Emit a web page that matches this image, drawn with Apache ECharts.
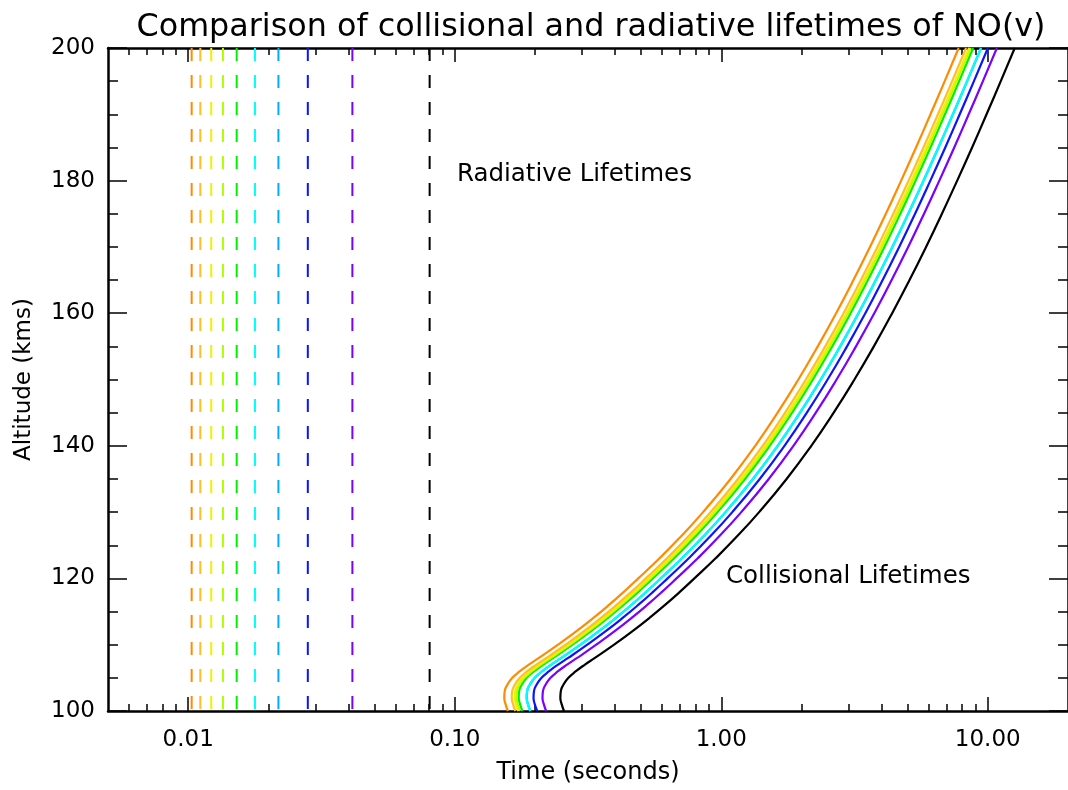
<!DOCTYPE html>
<html><head><meta charset="utf-8">
<script src="https://cdn.jsdelivr.net/npm/echarts@6/dist/echarts.min.js"></script>
<style>html,body{margin:0;padding:0;background:#fff}#c{width:1068px;height:790px}</style>
</head><body><div id="c"></div>
<script>
// Altitude grid (km) shared by every collisional-lifetime curve
const altitudes = [100,101,102,103,104,105,106,107,108,110,112,114,116,118,120,123,126,130,135,140,145,150,155,160,165,170,175,180,185,190,195,200];

// Collisional lifetimes (seconds), one array per vibrational level (colour)
const collBlack  = [0.257,0.252,0.249,0.250,0.256,0.267,0.285,0.308,0.3357,0.3963,0.4634,0.5365,0.6155,0.7008,0.7928,0.9502,1.1256,1.3871,1.7584,2.1768,2.6418,3.1608,3.7375,4.3782,5.0862,5.8671,6.7290,7.6790,8.7339,9.8969,11.190,12.625];
const collPurple = [0.2202,0.2160,0.2134,0.2143,0.2194,0.2288,0.2442,0.2640,0.2880,0.3396,0.3971,0.4598,0.5275,0.6006,0.6794,0.8143,0.9646,1.1887,1.5069,1.8655,2.2640,2.7088,3.2030,3.7521,4.3589,5.0281,5.7668,6.5809,7.4850,8.4816,9.5898,10.820];
const collBlue   = [0.2038,0.1998,0.1975,0.1983,0.2030,0.2117,0.2260,0.2442,0.2664,0.3143,0.3675,0.4254,0.4881,0.5557,0.6287,0.7535,0.8926,1.1000,1.3944,1.7262,2.0949,2.5065,2.9638,3.4719,4.0334,4.6526,5.3361,6.0894,6.9260,7.8482,8.8737,10.012];
const collSky    = [0.1922,0.1884,0.1862,0.1870,0.1914,0.1996,0.2131,0.2303,0.2512,0.2963,0.3465,0.4012,0.4603,0.5240,0.5928,0.7105,0.8416,1.0372,1.3148,1.6277,1.9754,2.3635,2.7947,3.2738,3.8032,4.3871,5.0316,5.7419,6.5307,7.4004,8.3673,9.4403];
const collCyan   = [0.1920,0.1882,0.1860,0.1868,0.1912,0.1994,0.2129,0.2301,0.2510,0.2960,0.3462,0.4008,0.4598,0.5235,0.5922,0.7098,0.8408,1.0362,1.3135,1.6261,1.9734,2.3611,2.7919,3.2705,3.7994,4.3827,5.0266,5.7362,6.5242,7.3930,8.3589,9.4309];
const collGreen  = [0.1794,0.1759,0.1738,0.1745,0.1787,0.1864,0.1989,0.2150,0.2345,0.2766,0.3235,0.3745,0.4296,0.4892,0.5534,0.6632,0.7857,0.9682,1.2274,1.5194,1.8440,2.2062,2.6088,3.0560,3.5502,4.0952,4.6968,5.3599,6.0963,6.9080,7.8106,8.8123];
const collLime   = [0.1755,0.1721,0.1701,0.1708,0.1748,0.1824,0.1947,0.2104,0.2295,0.2707,0.3165,0.3664,0.4204,0.4786,0.5415,0.6490,0.7688,0.9474,1.2010,1.4868,1.8043,2.1588,2.5527,2.9903,3.4739,4.0072,4.5959,5.2446,5.9653,6.7596,7.6428,8.6229];
const collYellow = [0.1732,0.1698,0.1678,0.1685,0.1725,0.1800,0.1921,0.2076,0.2265,0.2671,0.3123,0.3616,0.4148,0.4723,0.5343,0.6404,0.7587,0.9349,1.1852,1.4672,1.7806,2.1304,2.5191,2.9509,3.4281,3.9544,4.5353,5.1756,5.8866,6.6705,7.5421,8.5093];
const collGold   = [0.1688,0.1656,0.1636,0.1643,0.1682,0.1754,0.1872,0.2024,0.2208,0.2604,0.3045,0.3525,0.4044,0.4604,0.5209,0.6243,0.7395,0.9113,1.1553,1.4302,1.7357,2.0766,2.4555,2.8765,3.3416,3.8547,4.4210,5.0451,5.7382,6.5023,7.3518,8.2946];
const collOrange = [0.1583,0.1552,0.1534,0.1540,0.1577,0.1645,0.1756,0.1897,0.2070,0.2441,0.2855,0.3305,0.3791,0.4317,0.4884,0.5853,0.6934,0.8545,1.0832,1.3409,1.6273,1.9471,2.3023,2.6970,3.1331,3.6141,4.1451,4.7303,5.3801,6.0965,6.8930,7.7770];

// Radiative lifetimes (seconds), same level order
const radiativeLifetimes = [0.0805,0.0413,0.0281,0.0218,0.0178,0.0152,0.0135,0.0122,0.0111,0.0103];

const levelColors = ['#000000','#7a00ff','#0a14ff','#00acff','#00ffff','#00f000','#b0ff00','#f0f000','#ffc020','#ff8c00'];

const xMajorTicks = [0.01,0.1,1,10];
const xMinorTicks = [0.006,0.007,0.008,0.009,0.02,0.03,0.04,0.05,0.06,0.07,0.08,0.09,0.2,0.3,0.4,0.5,0.6,0.7,0.8,0.9,2,3,4,5,6,7,8,9];

const FONT = 'DejaVu Sans';
const collisional = [collBlack,collPurple,collBlue,collSky,collCyan,collGreen,collLime,collYellow,collGold,collOrange];

const series = [];
radiativeLifetimes.forEach((r,i)=>{
  series.push({type:'line', xAxisIndex:0, yAxisIndex:0, data:[[r,200],[r,100]], symbol:'none', silent:true,
    lineStyle:{color:levelColors[i], width:2, type:[13,14]}, z:2});
});
collisional.forEach((arr,i)=>{
  series.push({type:'line', xAxisIndex:0, yAxisIndex:0, data:altitudes.map((a,j)=>[arr[j],a]), symbol:'none', silent:true,
    smooth:0.5, lineStyle:{color:levelColors[i], width:2.2}, z:3});
});

const gridRect = {left:108, top:48, width:968, height:668};
function xAx(pos, ticks, len, showLine, showLabel){
  return {type:'log', logBase:10, min:0.005, max:20, position:pos, gridIndex:0,
    axisLine:{show:showLine, lineStyle:{color:'#000', width:2.5}},
    axisTick:{show:true, inside:true, length:len, customValues:ticks, lineStyle:{color:'#000', width:1.5}},
    axisLabel:{show:showLabel, customValues:xMajorTicks, formatter:v=>Number(v).toFixed(2), fontFamily:FONT, fontSize:23, color:'#000', margin:18},
    splitLine:{show:false}, minorTick:{show:false}, minorSplitLine:{show:false},
    name: showLabel ? 'Time (seconds)' : '', nameLocation:'middle', nameGap:50,
    nameTextStyle:{fontFamily:FONT, fontSize:24, color:'#000'}};
}
function yAx(pos, showLabel){
  return {type:'value', min:100, max:200, interval:20, position:pos, gridIndex:0,
    axisLine:{show:true, lineStyle:{color:'#000', width:2.5}},
    axisTick:{show:true, inside:true, length:19, lineStyle:{color:'#000', width:1.5}},
    minorTick:{show:true, splitNumber:4, length:10, lineStyle:{color:'#000', width:1.5}},
    axisLabel:{show:showLabel, fontFamily:FONT, fontSize:23, color:'#000', margin:13},
    splitLine:{show:false},
    name: showLabel ? 'Altitude (kms)' : '', nameLocation:'middle', nameGap:72, nameRotate:90,
    nameTextStyle:{fontFamily:FONT, fontSize:23, color:'#000'}};
}

const option = {
  animation:false,
  backgroundColor:'#fff',
  title:{text:'Comparison of collisional and radiative lifetimes of NO(v)', left:586, top:7, textAlign:'center',
    textStyle:{fontFamily:FONT, fontSize:31.8, fontWeight:'normal', color:'#000'}},
  grid:gridRect,
  xAxis:[xAx('bottom',xMajorTicks,14,true,true), xAx('bottom',xMinorTicks,7,false,false),
         xAx('top',xMajorTicks,14,true,false), xAx('top',xMinorTicks,7,false,false)],
  yAxis:[yAx('left',true), yAx('right',false)],
  graphic:[
    {type:'text', left:457, top:162, style:{text:'Radiative Lifetimes', font:'24.5px "DejaVu Sans"', fill:'#000'}},
    {type:'text', left:726, top:564, style:{text:'Collisional Lifetimes', font:'24.5px "DejaVu Sans"', fill:'#000'}}
  ],
  series:series
};
const chart = echarts.init(document.getElementById('c'), null, {renderer:'canvas'});
chart.setOption(option);
</script></body></html>
